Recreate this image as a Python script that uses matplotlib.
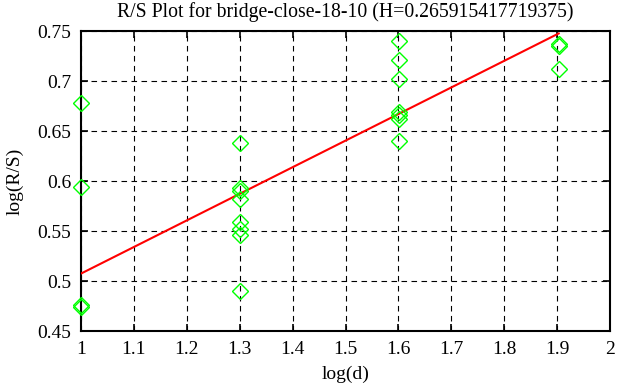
import numpy as np
import matplotlib
matplotlib.use("Agg")
import matplotlib.pyplot as plt

plt.rcParams['font.family'] = ['Liberation Serif', 'DejaVu Serif']

# data
log_d = [1.0, 1.0, 1.0, 1.0,
         1.301, 1.301, 1.301, 1.301, 1.301, 1.301, 1.301, 1.301,
         1.602, 1.602, 1.602, 1.602, 1.602, 1.602, 1.602,
         1.903, 1.903, 1.903]
log_rs = [0.678, 0.594, 0.476, 0.474,
          0.638, 0.593, 0.590, 0.582, 0.559, 0.552, 0.546, 0.490,
          0.740, 0.721, 0.702, 0.669, 0.666, 0.662, 0.640,
          0.737, 0.735, 0.712]
H = 0.265915417719375
intercept = 0.2415
fit_x = [1.0, 1.903]

xticks = [1, 1.1, 1.2, 1.3, 1.4, 1.5, 1.6, 1.7, 1.8, 1.9, 2]
xticklabels = ['1', '1.1', '1.2', '1.3', '1.4', '1.5', '1.6', '1.7', '1.8', '1.9', '2']
yticks = [0.45, 0.5, 0.55, 0.6, 0.65, 0.7, 0.75]
yticklabels = ['0.45', '0.5', '0.55', '0.6', '0.65', '0.7', '0.75']

fig = plt.figure(figsize=(6.17, 3.87), dpi=100)
ax = fig.add_axes([81/617, 1-331/387, (610-81)/617, (331-31)/387])

fit_y = [H * x + intercept for x in fit_x]
ax.plot(fit_x, fit_y, color='#ff0000', lw=1.5, zorder=3)
ax.plot(log_d, log_rs, linestyle='none', marker='D', markersize=8.5,
        markerfacecolor='none', markeredgecolor='#00ff00', markeredgewidth=1.0,
        clip_on=False, zorder=4)

ax.set_xlim(1, 2)
ax.set_ylim(0.45, 0.75)
ax.set_xticks(xticks)
ax.set_xticklabels(xticklabels)
ax.set_yticks(yticks)
ax.set_yticklabels(yticklabels)
ax.grid(True, color='black', linestyle=(0, (5, 4)), linewidth=0.8)
ax.tick_params(direction='in', length=5, width=1.2, labelsize=14, pad=7,
               top=True, right=True, colors='black')
for s in ax.spines.values():
    s.set_linewidth(1.5)

ax.set_title('R/S Plot for bridge-close-18-10 (H=0.265915417719375)', fontsize=14.2, pad=10)
ax.set_xlabel('log(d)', fontsize=14, labelpad=6)
ax.set_ylabel('log(R/S)', fontsize=14, labelpad=10)

fig.savefig('out.png', dpi=100)
